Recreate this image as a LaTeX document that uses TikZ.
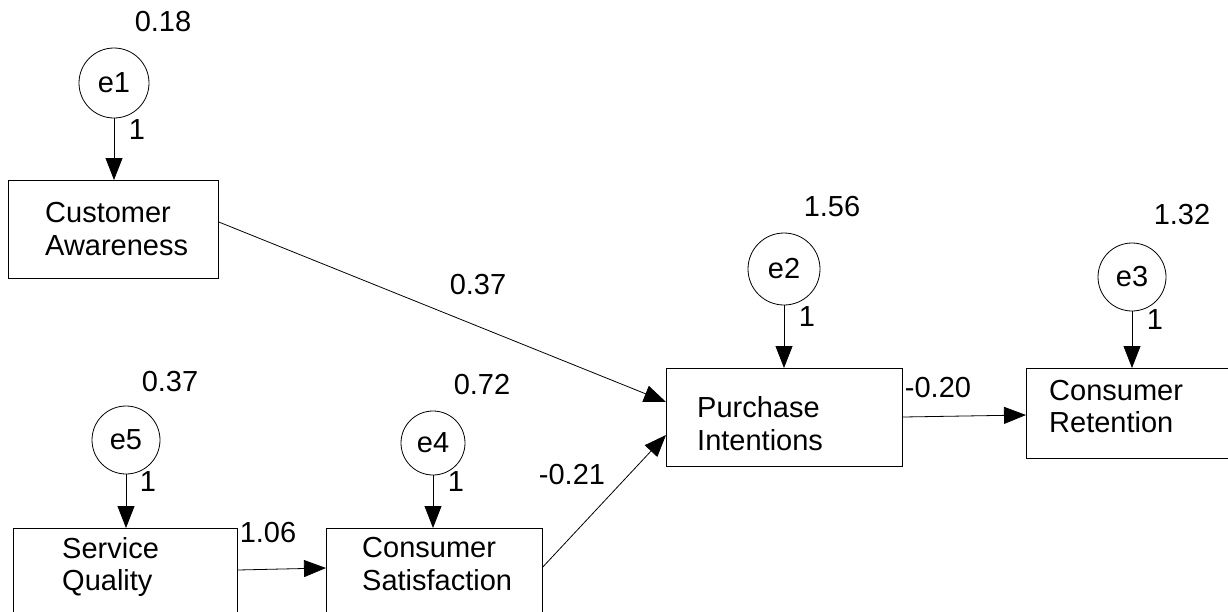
\documentclass[tikz,border=0pt]{standalone}
\usepackage{fontspec}
\setmainfont{Liberation Sans}
\usetikzlibrary{arrows.meta}
\begin{document}
\begin{tikzpicture}[x=1pt,y=-1pt,
  every node/.style={font=\fontsize{29}{33}\selectfont, inner sep=0pt},
  varbox/.style={draw, line width=0.8pt, rectangle, anchor=north west},
  errc/.style={draw, line width=0.8pt, circle},
  txt/.style={anchor=base west},
  lab/.style={anchor=center},
  path/.style={draw, line width=0.8pt, -{Triangle[length=22pt,width=17pt]}}
]
\clip (0,0) rectangle (1228,611);
\fill[white] (0,0) rectangle (1228,611);

% boxes
\node[varbox, minimum width=210pt, minimum height=98pt] (CA) at (8,180) {};
\node[varbox, minimum width=236pt, minimum height=98pt] (PI) at (666,368) {};
\node[varbox, minimum width=230pt, minimum height=90pt] (CR) at (1026,368) {};
\node[varbox, minimum width=224pt, minimum height=112pt] (SQ) at (13,528) {};
\node[varbox, minimum width=216pt, minimum height=112pt] (CS) at (326,528) {};

% box texts
\node[txt] (ca1) at (45,222) {Customer};
\node[txt] (ca2) at (45,255) {Awareness};
\node[txt] (pi1) at (697,417) {Purchase};
\node[txt] (pi2) at (697,450) {Intentions};
\node[txt] (cr1) at (1049,400) {Consumer};
\node[txt] (cr2) at (1049,432) {Retention};
\node[txt] (sq1) at (62,558) {Service};
\node[txt] (sq2) at (62,590) {Quality};
\node[txt] (cs1) at (362,557) {Consumer};
\node[txt] (cs2) at (362,590) {Satisfaction};

% error circles
\node[errc, minimum size=70pt] (e1) at (114,83) {e1};
\node[errc, minimum size=72pt] (e2) at (784,269) {e2};
\node[errc, minimum size=68pt] (e3) at (1132,277) {e3};
\node[errc, minimum size=64pt] (e4) at (433,443) {e4};
\node[errc, minimum size=68pt] (e5) at (126,440) {e5};

% variances
\node[lab] (v1) at (163,22) {0.18};
\node[lab] (v2) at (832,207) {1.56};
\node[lab] (v3) at (1182,215) {1.32};
\node[lab] (v4) at (482,385) {0.72};
\node[lab] (v5) at (170,382) {0.37};

% error paths
\draw[path] (e1) -- (e1 |- CA.north);
\draw[path] (e2) -- (e2 |- PI.north);
\draw[path] (e3) -- (e3 |- CR.north);
\draw[path] (e4) -- (e4 |- CS.north);
\draw[path] (e5) -- (e5 |- SQ.north);
\node[lab] (w1) at (137,130) {1};
\node[lab] (w2) at (807,317) {1};
\node[lab] (w3) at (1155,320) {1};
\node[lab] (w4) at (456,482) {1};
\node[lab] (w5) at (148,482) {1};

% structural paths
\draw[path] ([yshift=-42pt]CA.north east) -- ([yshift=-34pt]PI.north west);
\draw[path] ([yshift=-39pt]CS.north east) -- ([yshift=-67pt]PI.north west);
\draw[path] ([yshift=-42pt]SQ.north east) -- ([yshift=-40pt]CS.north west);
\draw[path] ([yshift=-49pt]PI.north east) -- ([yshift=-47pt]CR.north west);

\node[lab] (c1) at (478,285) {0.37};
\node[lab] (c2) at (572,475) {-0.21};
\node[lab] (c3) at (268,533) {1.06};
\node[lab] (c4) at (938,388) {-0.20};
\end{tikzpicture}
\end{document}
